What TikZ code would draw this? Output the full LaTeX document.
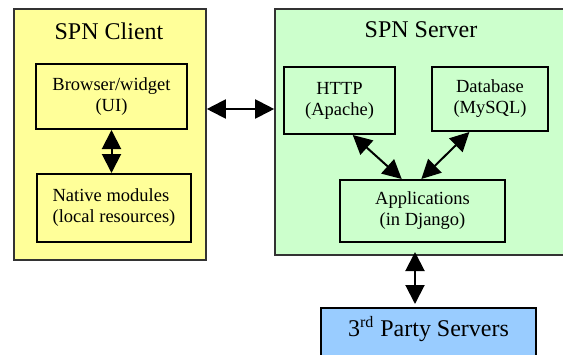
\documentclass[tikz,border=0pt]{standalone}
\usepackage{fontspec}
\setmainfont{Liberation Serif}
\usetikzlibrary{arrows.meta, positioning}

\newcommand{\boxfont}{\fontsize{9.25}{10.5}\selectfont}
\newcommand{\titlefont}{\fontsize{12}{14}\selectfont}

\begin{document}
\begin{tikzpicture}[
            > = {Triangle[length=9.5pt, width=9.5pt]}, % big filled heads
            x = 0.5pt, y = -0.5pt, % one unit per pixel, y downwards
            line width = 1pt, % line style
        ]
\tikzstyle{group}=[
			shape = rectangle,
			draw = black!80,
			line width = 0.8pt,
			inner sep = 0pt
			]
\tikzstyle{part}=[
			shape = rectangle,
			draw = black,
			line width = 1pt,
			font = \boxfont,
			align = center
			]
\tikzstyle{title}=[
			font = \titlefont,
			anchor = base
			]
\clip (0,0) rectangle (563,354);
% the two groups
\node[group, fill={rgb,255:red,255;green,255;blue,153}, minimum width=96pt, minimum height=125.5pt]
	(client) at (110,134.5) {};
\node[group, fill={rgb,255:red,204;green,255;blue,204}, minimum width=152.5pt, minimum height=123pt]
	(server) at (427.5,132) {};
\node[title](clienttitle) at (109,39) {SPN Client};
\node[title](servertitle) at (421,37) {SPN Server};
% client parts
\node[part, minimum width=75.5pt, minimum height=32.5pt](browser) at (111.5,96.5)
	{Browser/widget\\(UI)};
\node[part, minimum width=77pt, minimum height=34pt, align=left](native) at (114,208)
	{Native modules\\(local resources)};
% server parts
\node[part, minimum width=55.5pt, minimum height=33.5pt](http) at (339.5,100.5)
	{HTTP\\(Apache)};
\node[part, minimum width=58pt, minimum height=32pt](db) at (490,99)
	{Database\\(MySQL)};
\node[part, minimum width=82.5pt, minimum height=31pt](apps) at (422.5,211)
	{Applications\\(in Django)};
% outside
\node[part, fill={rgb,255:red,153;green,204;blue,255}, font=\titlefont, anchor=north,
	minimum width=107.5pt, text height=9pt, text depth=20pt, inner ysep=5pt]
	(third) at (428.5,307) {3\textsuperscript{rd} Party Servers};
\coordinate (link) at (240,109);
\draw[<->] (browser.south) -- (browser.south |- native.north);
\draw[<->] (link -| client.east) -- (link -| server.west);
\draw[<->] (http.-69.5) -- (apps.123.5);
\draw[<->] (db.-122) -- (apps.92.6);
\draw[<->, shorten <= 4.5pt, shorten >= 1.5pt] ([xshift=-3.75pt]apps.south)
	-- ([xshift=-3.75pt]apps.south |- third.north);
\end{tikzpicture}
\end{document}
